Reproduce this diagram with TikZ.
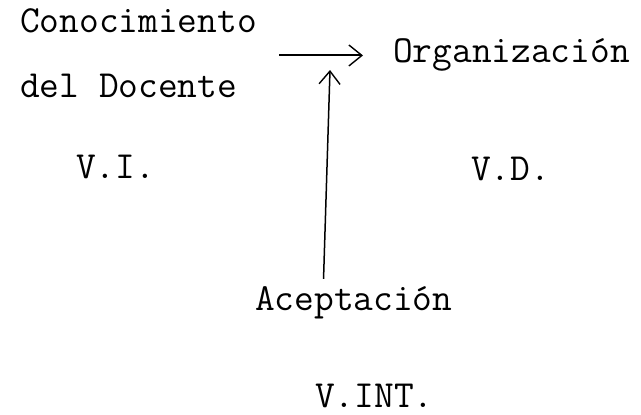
\documentclass[tikz,border=0pt]{standalone}
\usepackage{fontspec}
\usepackage{tikz}
\usetikzlibrary{arrows.meta}

\begin{document}
\begin{tikzpicture}[x=1pt, y=-1pt,
    typed/.style={inner sep=0pt, anchor=base west, text=black,
    font=\ttfamily\fontsize{38.3}{46}\selectfont},
    flow/.style={-{Straight Barb[length=13pt,width=21pt,line width=1.4pt]}, line width=2pt}]
    \useasboundingbox (0,0) rectangle (641,415);

    \node (conocimiento) [typed] at (20,32) {Conocimiento};
    \node (docente) [typed] at (20,97) {del Docente};
    \node (vi) [typed] at (76,178) {V.I.};

    \node (organizacion) [typed] at (393,63) {Organización};
    \node (vd) [typed] at (471,180) {V.D.};

    \node (aceptacion) [typed] at (255,310) {Aceptación};
    \node (vint) [typed, text depth=0pt] at (315,407) {V.INT.};

    \coordinate (joint) at (330,70);

    \draw[flow, shorten <=22pt, shorten >=30pt] (conocimiento.east |- organizacion.west) -- (organizacion.west);
    \draw[flow, line width=1.5pt, shorten <=7pt] ([xshift=-30.5pt]aceptacion.north) -- (joint);
\end{tikzpicture}
\end{document}
